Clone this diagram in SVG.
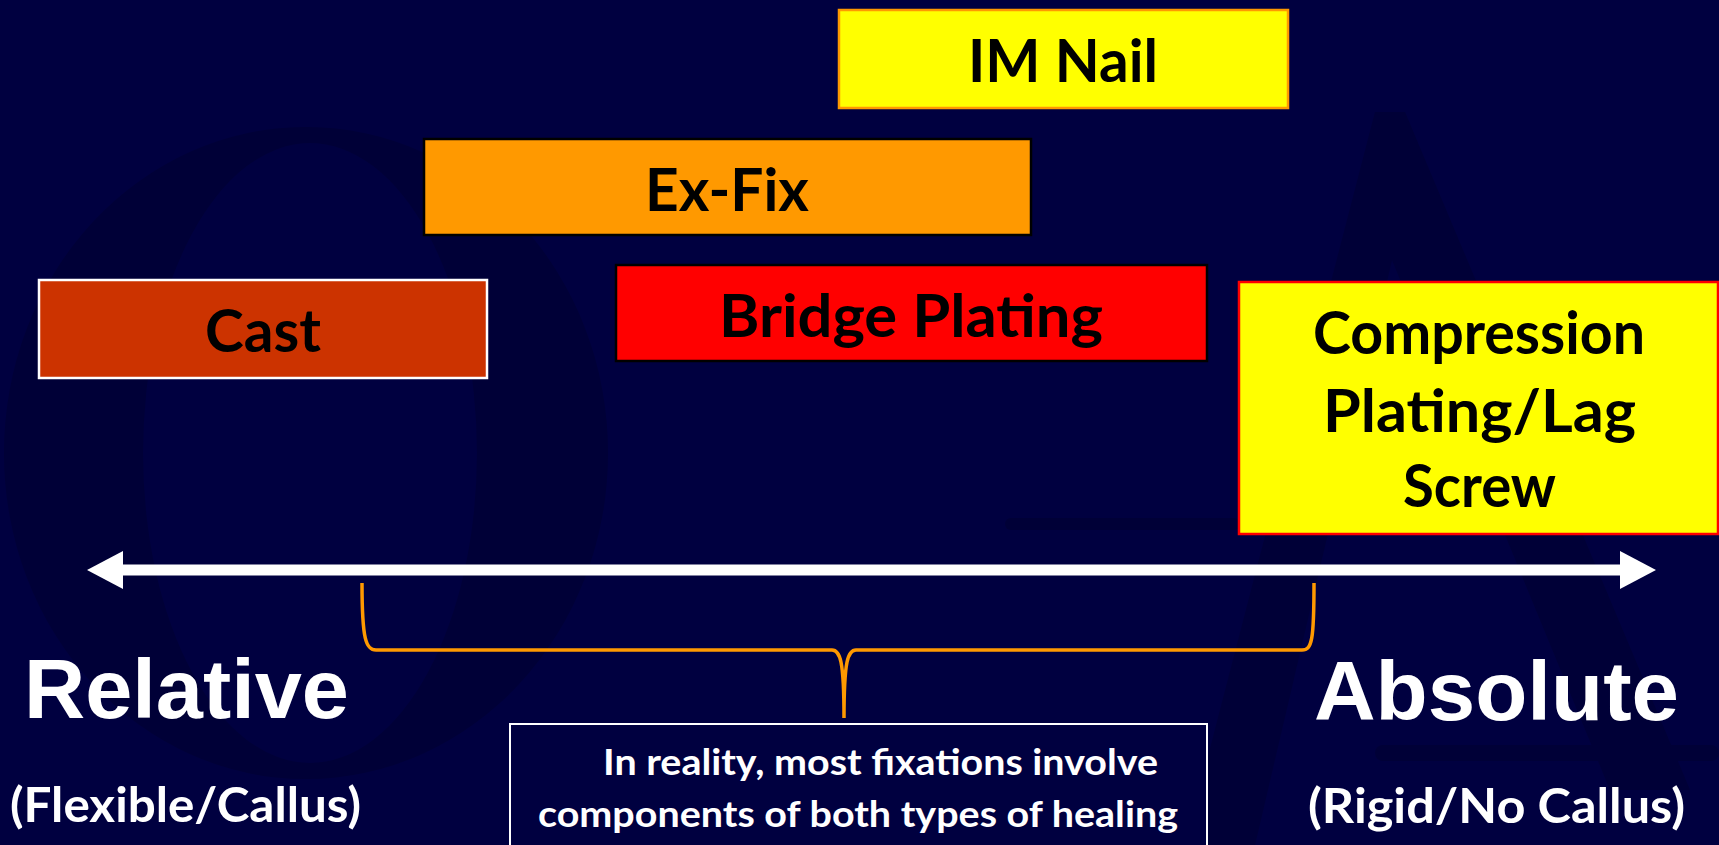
<svg xmlns="http://www.w3.org/2000/svg" width="1719" height="845" viewBox="0 0 1719 845">
<style>
.bg{fill:#000040}
.wm{fill:#000037}
.box{stroke-width:2.5}
.lbl{font-family:Lato,"Noto Sans",sans-serif;font-weight:bold;font-size:60px;fill:#000000}
.big{font-family:"Liberation Sans",Arial,sans-serif;font-weight:bold;font-size:84px;fill:#ffffff}
.sub{font-family:Lato,"Noto Sans",sans-serif;font-weight:bold;font-size:47px;fill:#ffffff}
.cap{font-family:Lato,"Noto Sans",sans-serif;font-weight:bold;font-size:37px;fill:#ffffff}
</style>
<defs>
<marker id="ah" markerUnits="userSpaceOnUse" markerWidth="36" markerHeight="38" refX="0" refY="19" orient="auto-start-reverse">
<path d="M0,0 L36,19 L0,38 z" fill="#ffffff"/>
</marker>
</defs>
<rect class="bg" x="0" y="0" width="1719" height="845"/>
<g id="watermark">
<path class="wm" fill-rule="evenodd" d="M4,453 A302,326 0 1,0 608,453 A302,326 0 1,0 4,453 Z M143,453 A167,310 0 1,0 477,453 A167,310 0 1,0 143,453 Z"/>
<path class="wm" d="M1375,112 L1405,112 L1690,790 L1610,790 L1392,260 L1255,845 L1185,845 Z"/>
<rect class="wm" x="1005" y="518" width="235" height="12" rx="6"/>
<rect class="wm" x="1375" y="745" width="344" height="16" rx="8"/>
</g>
<g id="connectors">
<line x1="123" y1="570" x2="1620" y2="570" stroke="#ffffff" stroke-width="11" marker-start="url(#ah)" marker-end="url(#ah)"/>
<path d="M362,583 C362,640 366,650 376,650 L832,650 C840,650 844,660 844,718 C844,660 848,650 856,650 L1302,650 C1312,650 1314,640 1314,583" fill="none" stroke="#FF9900" stroke-width="3.5"/>
</g>
<g id="im-nail">
<rect class="box" x="839" y="10" width="449" height="98" fill="#FFFF00" stroke="#FF9900"/>
<text class="lbl" x="968" y="82" textLength="190" lengthAdjust="spacingAndGlyphs">IM Nail</text>
</g>
<g id="ex-fix">
<rect class="box" x="424" y="139" width="607" height="96" fill="#FF9900" stroke="#000000"/>
<text class="lbl" x="645" y="211" textLength="164" lengthAdjust="spacingAndGlyphs">Ex-Fix</text>
</g>
<g id="bridge-plating">
<rect class="box" x="616" y="265" width="591" height="96" fill="#FF0000" stroke="#000000"/>
<text class="lbl" x="719" y="337" textLength="384" lengthAdjust="spacingAndGlyphs">Bridge Plating</text>
</g>
<g id="cast">
<rect class="box" x="39" y="280" width="448" height="98" fill="#CC3300" stroke="#ffffff"/>
<text class="lbl" x="205" y="352" textLength="116" lengthAdjust="spacingAndGlyphs">Cast</text>
</g>
<g id="compression">
<rect class="box" x="1239" y="282" width="479" height="252" fill="#FFFF00" stroke="#FF0000"/>
<text class="lbl" x="1313" y="354" textLength="332" lengthAdjust="spacingAndGlyphs">Compression</text>
<text class="lbl" x="1323" y="432" textLength="313" lengthAdjust="spacingAndGlyphs">Plating/Lag</text>
<text class="lbl" x="1403" y="507" textLength="153" lengthAdjust="spacingAndGlyphs">Screw</text>
</g>
<g id="relative">
<text class="big" x="24" y="718" textLength="325" lengthAdjust="spacingAndGlyphs">Relative</text>
<text class="sub" x="10" y="822" textLength="351" lengthAdjust="spacingAndGlyphs">(Flexible/Callus)</text>
</g>
<g id="absolute">
<text class="big" x="1314" y="720" textLength="365" lengthAdjust="spacingAndGlyphs">Absolute</text>
<text class="sub" x="1308" y="823" textLength="377" lengthAdjust="spacingAndGlyphs">(Rigid/No Callus)</text>
</g>
<g id="note">
<rect x="510" y="724" width="697" height="140" fill="#000040" stroke="#ffffff" stroke-width="2"/>
<text class="cap" x="603" y="775" textLength="555" lengthAdjust="spacingAndGlyphs">In reality, most fixations involve</text>
<text class="cap" x="538" y="827" textLength="640" lengthAdjust="spacingAndGlyphs">components of both types of healing</text>
</g>
</svg>
